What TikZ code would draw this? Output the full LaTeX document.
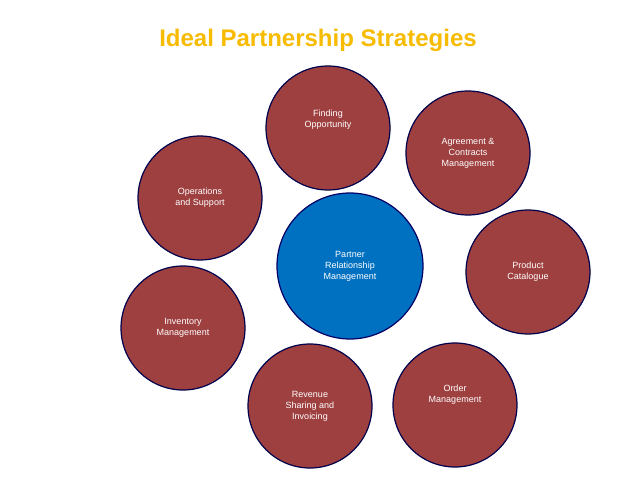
\documentclass[tikz,border=0pt]{standalone}
\usepackage{fontspec}
\setmainfont{Liberation Sans}
\begin{document}
\begin{tikzpicture}[x=1pt,y=-1pt,
 red/.style={circle,draw=black!70!blue,line width=1.2pt,fill=red!50!black!75!white,minimum size=124pt,inner sep=0pt,text=white,font=\fontsize{9}{11}\selectfont,align=center},
 bluec/.style={circle,draw=blue!40!black,line width=1.2pt,fill={rgb,255:red,0;green,112;blue,192},minimum size=146pt,inner sep=0pt,text=white,font=\fontsize{9}{11}\selectfont,align=center}]
\definecolor{ttl}{RGB}{247,187,0}
\fill[white] (0,0) rectangle (638,479);
\node[text=ttl,font=\bfseries\fontsize{24}{28}\selectfont] (title) at (318,40) {Ideal Partnership Strategies};
\node[bluec] (prm) at (350,266) {Partner\\Relationship\\Management};
\node[red] (fo) at (328,128) {Finding\\Opportunity\\[8pt]};
\node[red] (ag) at (468,153) {Agreement \&\\Contracts\\Management};
\node[red] (op) at (200,198) {Operations\\and Support};
\node[red] (pc) at (528,272) {Product\\Catalogue};
\node[red] (im) at (183,328) {Inventory\\Management};
\node[red] (rs) at (310,406) {Revenue\\Sharing and\\Invoicing};
\node[red] (om) at (455,405) {Order\\Management\\[12pt]};
\end{tikzpicture}
\end{document}
